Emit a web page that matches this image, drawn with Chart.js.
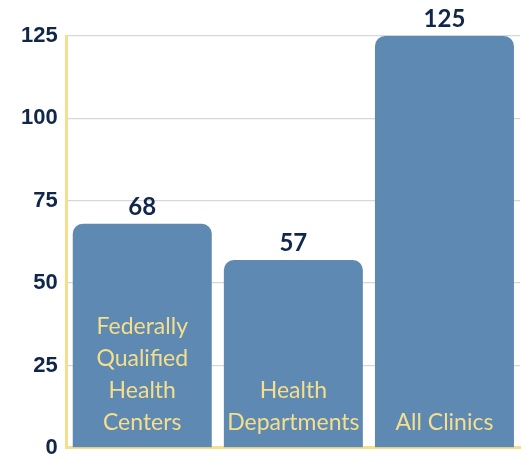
<!DOCTYPE html>
<html>
<head>
<meta charset="utf-8">
<script src="https://cdn.jsdelivr.net/npm/chart.js@4/dist/chart.umd.min.js"></script>
<style>
  body { margin: 0; background: #fff; }
  #wrap { width: 526px; height: 461px; }
</style>
</head>
<body>
<div id="wrap"><canvas id="chart"></canvas></div>
<script>
const categories = [
  ['Federally', 'Qualified', 'Health', 'Centers'],
  ['Health', 'Departments'],
  ['All Clinics']
];
const clinicCounts = [68, 57, 125];
const yTicks = [0, 25, 50, 75, 100, 125];

const navy = '#10264a';
const yellow = '#f6df8c';
const barBlue = '#5e89b3';

// draws the number above each bar and the category name inside it
const barText = {
  id: 'barText',
  afterDatasetsDraw(chart) {
    const ctx = chart.ctx;
    const bars = chart.getDatasetMeta(0).data;
    ctx.save();
    ctx.textAlign = 'center';
    ctx.textBaseline = 'alphabetic';
    bars.forEach((bar, i) => {
      ctx.fillStyle = navy;
      ctx.font = 'bold 24px Lato';
      ctx.fillText(clinicCounts[i], bar.x, bar.y - 9);

      ctx.fillStyle = yellow;
      ctx.font = '23px Lato';
      const lines = categories[i];
      const lineH = 32;
      let y = bar.base - 17;
      for (let k = lines.length - 1; k >= 0; k--) {
        ctx.fillText(lines[k], bar.x, y);
        y -= lineH;
      }
    });
    ctx.restore();
  }
};

new Chart(document.getElementById('chart').getContext('2d'), {
  type: 'bar',
  data: {
    labels: categories.map(c => c.join(' ')),
    datasets: [{
      data: clinicCounts,
      backgroundColor: barBlue,
      borderRadius: { topLeft: 10, topRight: 10 },
      borderSkipped: 'start',
      barPercentage: 0.92,
      categoryPercentage: 1
    }]
  },
  options: {
    responsive: true,
    maintainAspectRatio: false,
    animation: false,
    layout: { padding: { top: 36, left: 21, right: 6, bottom: 0 } },
    scales: {
      x: {
        grid: { display: false, drawTicks: false },
        ticks: { display: false, padding: 0 },
        border: { color: yellow, width: 3 }
      },
      y: {
        min: 0,
        max: 125,
        afterBuildTicks: axis => { axis.ticks = yTicks.map(v => ({ value: v })); },
        grid: { color: '#d4d7df', lineWidth: 1.2, drawTicks: true, tickLength: 9, tickColor: 'rgba(0,0,0,0)' },
        border: { color: yellow, width: 3 },
        ticks: {
          padding: 0,
          color: navy,
          font: { family: 'Liberation Sans', weight: 'bold', size: 22 }
        }
      }
    },
    plugins: {
      legend: { display: false },
      tooltip: { enabled: false }
    }
  },
  plugins: [barText]
});
</script>
</body>
</html>
